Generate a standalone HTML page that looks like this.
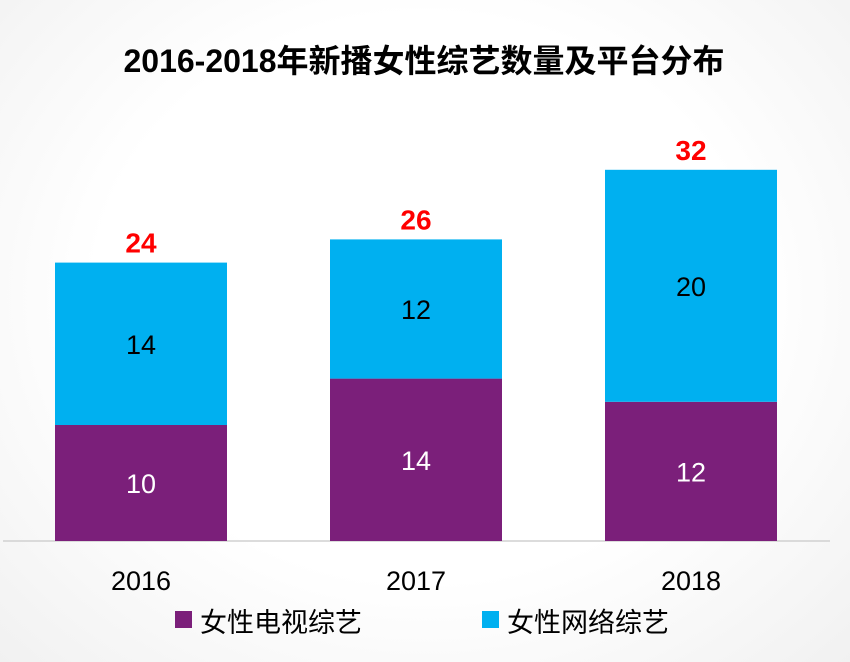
<!DOCTYPE html>
<html><head><meta charset="utf-8"><style>
body{margin:0;width:850px;height:662px;overflow:hidden;background:radial-gradient(ellipse at 50% 45%,#fff 55%,#f1f1f1 100%);font-family:"Liberation Sans","Noto Sans CJK SC",sans-serif}
</style></head><body>
<svg id="c" width="850" height="662" style="position:absolute;left:0;top:0">
<text x="424" y="72" text-anchor="middle" font-size="32" font-weight="bold" fill="#000" font-family="Liberation Sans,Noto Sans CJK SC,sans-serif">2016-2018年新播女性综艺数量及平台分布</text>
<line x1="3" y1="541" x2="830" y2="541" stroke="#d0d0d0" stroke-width="1.5"/>
<g id="bars"></g>
<rect x="175" y="611" width="17" height="17" fill="#7B1F7A"/>
<text x="200" y="632" font-size="27" fill="#000" font-family="Liberation Sans,Noto Sans CJK SC,sans-serif">女性电视综艺</text>
<rect x="482" y="611" width="17" height="17" fill="#00B0F0"/>
<text x="507" y="632" font-size="27" fill="#000" font-family="Liberation Sans,Noto Sans CJK SC,sans-serif">女性网络综艺</text>
</svg>
<script>
const categories=["2016","2017","2018"];
const tvValues=[10,14,12];
const webValues=[14,12,20];
const totals=[24,26,32];
const NS="http://www.w3.org/2000/svg";
const base=541,unit=11.6,barW=172,x0=55,step=275;
function yS(v){return base-v*unit;}
function xS(i){return x0+i*step;}
const g=document.getElementById('bars');
function mk(t,a){const e=document.createElementNS(NS,t);for(const k in a)e.setAttribute(k,a[k]);g.appendChild(e);return e;}
categories.forEach((c,i)=>{
 const x=xS(i),tv=tvValues[i],wb=webValues[i];
 const r1=mk('rect',{x:x,y:yS(tv),width:barW,height:base-yS(tv),fill:'#7B1F7A'});
 
 
 const r2=mk('rect',{x:x,y:yS(tv+wb),width:barW,height:yS(tv)-yS(tv+wb),fill:'#00B0F0'});
 
 
 const t1=mk('text',{x:x+barW/2,y:(yS(tv)+base)/2+10,'text-anchor':'middle','font-size':27,fill:'#fff'});t1.textContent=tv;
 
 
 const t2=mk('text',{x:x+barW/2,y:(yS(tv)+yS(tv+wb))/2+10,'text-anchor':'middle','font-size':27,fill:'#000'});t2.textContent=wb;
 
 
 const t3=mk('text',{x:x+barW/2,y:yS(tv+wb)-10,'text-anchor':'middle','font-size':28,'font-weight':'bold',fill:'#FF0000'});t3.textContent=totals[i];
 
 
 const t4=mk('text',{x:x+barW/2,y:590,'text-anchor':'middle','font-size':27,fill:'#000'});t4.textContent=c;
 
 
});
</script>
</body></html>
